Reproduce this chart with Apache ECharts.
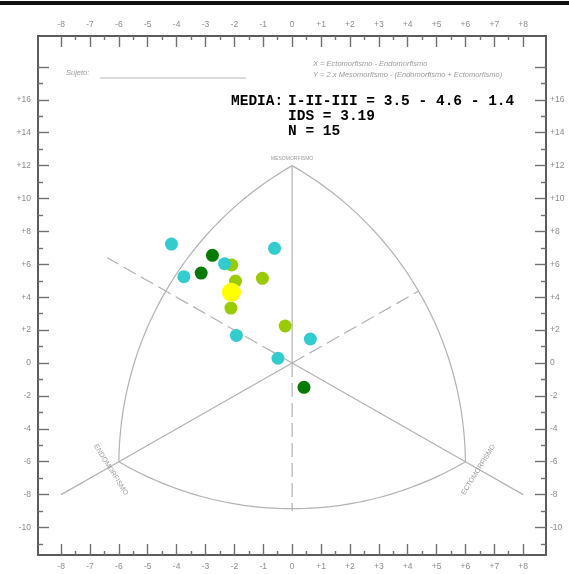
<!DOCTYPE html>
<html>
<head>
<meta charset="utf-8">
<script src="https://cdn.jsdelivr.net/npm/echarts@6/dist/echarts.min.js"></script>
<style>
  html, body { margin: 0; padding: 0; background: #fff; }
  #chart { width: 569px; height: 574px; }
</style>
</head>
<body>
<div id="chart"></div>
<script>
// Somatochart: X = Ectomorfismo - Endomorfismo, Y = 2 x Mesomorfismo - (Endomorfismo + Ectomorfismo)
const cyanPoints = [[-4.18, 7.23], [-0.61, 6.97], [-2.34, 6.04], [-3.75, 5.25], [-1.93, 1.68], [0.63, 1.46], [-0.49, 0.29]];
const darkGreenPoints = [[-2.76, 6.55], [-3.15, 5.47], [0.41, -1.48]];
const limePoints = [[-2.09, 5.96], [-1.96, 4.98], [-1.03, 5.15], [-2.12, 3.34], [-0.24, 2.25]];

// Mean somatotype (endo, meso, ecto), dispersion index and sample size
const meanSomatotype = [3.5, 4.6, 1.4];
const meanIDS = 3.19;
const sampleSize = 15;

// Axis tick values
const xTickValues = [-8, -7, -6, -5, -4, -3, -2, -1, 0, 1, 2, 3, 4, 5, 6, 7, 8];
const yLabelValues = [-10, -8, -6, -4, -2, 0, 2, 4, 6, 8, 10, 12, 14, 16];
const yMajorTicks = [-10, -8, -6, -4, -2, 0, 2, 4, 6, 8, 10, 12, 14, 16, 18];
const yMinorTicks = [-11, -9, -7, -5, -3, -1, 1, 3, 5, 7, 9, 11, 13, 15, 17];

// Somatochart outline (data space)
const apex = [0, 12];
const endoCorner = [-6, -6];
const ectoCorner = [6, -6];
const origin = [0, 0];
const endoTail = [-8, -8];
const ectoTail = [8, -8];
const upperLeftEnd = [-6.4, 6.4];
const upperRightEnd = [4.4, 4.4];
const lowerEnd = [0, -9];

const X_MIN = -8.8, X_MAX = 8.79, Y_MIN = -11.67, Y_MAX = 19.88;

// mean point from the stated mean somatotype
const meanPoint = [[
  meanSomatotype[2] - meanSomatotype[0],
  +(2 * meanSomatotype[1] - (meanSomatotype[0] + meanSomatotype[2])).toFixed(2)
]];

const xMinorTicks = xTickValues.slice(0, -1).map(v => v + 0.5);

function fmt(v) { return v > 0 ? '+' + v : String(v); }

const tickColor = '#707070';
const labelStyle = { color: '#8c8c8c', fontSize: 8.5, fontFamily: 'Liberation Sans' };

function xAxisDef(pos, ticks, len, labels) {
  return {
    type: 'value', position: pos, min: X_MIN, max: X_MAX,
    axisLine: { show: false, onZero: false }, splitLine: { show: false },
    axisTick: { show: true, inside: true, length: len, customValues: ticks,
                lineStyle: { color: tickColor, width: 1.4 } },
    axisLabel: labels ? Object.assign({ show: true, customValues: labels, formatter: fmt, margin: 7 }, labelStyle)
                      : { show: false }
  };
}
function yAxisDef(pos, ticks, len, labels) {
  return {
    type: 'value', position: pos, min: Y_MIN, max: Y_MAX,
    axisLine: { show: false, onZero: false }, splitLine: { show: false },
    axisTick: { show: true, inside: true, length: len, customValues: ticks,
                lineStyle: { color: tickColor, width: 1.4 } },
    axisLabel: labels ? Object.assign({ show: true, customValues: labels, formatter: fmt, margin: pos === 'left' ? 7 : 4 }, labelStyle)
                      : { show: false }
  };
}

// points along a circular arc around `c` from a to b (pixel space)
function arcPoints(c, a, b, n) {
  const a0 = Math.atan2(a[1] - c[1], a[0] - c[0]);
  let a1 = Math.atan2(b[1] - c[1], b[0] - c[0]);
  let d = a1 - a0;
  while (d > Math.PI) d -= 2 * Math.PI;
  while (d < -Math.PI) d += 2 * Math.PI;
  const r0 = Math.hypot(a[0] - c[0], a[1] - c[1]);
  const r1 = Math.hypot(b[0] - c[0], b[1] - c[1]);
  const pts = [];
  for (let i = 0; i <= n; i++) {
    const t = i / n, ang = a0 + d * t, r = r0 + (r1 - r0) * t;
    pts.push([c[0] + r * Math.cos(ang), c[1] + r * Math.sin(ang)]);
  }
  return pts;
}

function renderOutline(params, api) {
  const P = p => api.coord(p);
  const M = P(apex), EN = P(endoCorner), EC = P(ectoCorner), O = P(origin);
  const stroke = '#b2b2b2';
  const line = (pts, dash) => ({
    type: 'polyline', shape: { points: pts },
    style: { stroke: stroke, lineWidth: 1.2, fill: null, lineDash: dash || null }
  });
  const label = (text, pos, rot, size) => ({
    type: 'text', x: pos[0], y: pos[1], rotation: rot,
    style: { text: text, fill: '#9a9a9a', fontSize: size, fontFamily: 'Liberation Sans',
             align: 'center', verticalAlign: 'middle' }
  });
  return {
    type: 'group',
    children: [
      line(arcPoints(EC, M, EN, 60)),
      line(arcPoints(EN, M, EC, 60)),
      line(arcPoints(M, EN, EC, 60)),
      line([M, O]),
      line([O, EN, P(endoTail)]),
      line([O, EC, P(ectoTail)]),
      line([O, P(upperLeftEnd)], [14, 6]),
      line([O, P(upperRightEnd)], [14, 6]),
      line([O, P(lowerEnd)], [14, 6]),
      label('MESOMORFISMO', [M[0], M[1] - 7], 0, 5),
      label('ENDOMORFISMO', [EN[0] - 8, EN[1] + 8], -58 * Math.PI / 180, 7),
      label('ECTOMORFISMO', [EC[0] + 13, EC[1] + 8], 58 * Math.PI / 180, 7)
    ]
  };
}

const chart = echarts.init(document.getElementById('chart'), null, { renderer: 'canvas' });

const headerFont = { fontFamily: 'Liberation Mono', fontSize: 14.5, fontWeight: 'bold', fill: '#000' };
const smallFont = { fontFamily: 'Liberation Sans', fontSize: 7.5, fontStyle: 'italic', fill: '#9a9a9a' };

chart.setOption({
  animation: false,
  backgroundColor: '#fff',
  grid: { left: 38, right: 23, top: 36, bottom: 19, show: true,
          borderColor: '#5c5c5c', borderWidth: 2, backgroundColor: 'transparent' },
  xAxis: [
    xAxisDef('bottom', xTickValues, 11, xTickValues),
    xAxisDef('bottom', xMinorTicks, 4, null),
    xAxisDef('top', xTickValues, 11, xTickValues),
    xAxisDef('top', xMinorTicks, 4, null)
  ],
  yAxis: [
    yAxisDef('left', yMajorTicks, 11, yLabelValues),
    yAxisDef('left', yMinorTicks, 5, null),
    yAxisDef('right', yMajorTicks, 11, yLabelValues),
    yAxisDef('right', yMinorTicks, 5, null)
  ],
  graphic: [
    { type: 'rect', left: 0, top: 1, shape: { width: 569, height: 4 }, style: { fill: '#111' } },
    { type: 'text', left: 66, top: 69, style: Object.assign({ text: 'Sujeto:' }, smallFont) },
    { type: 'line', shape: { x1: 100, y1: 78, x2: 246, y2: 78 }, style: { stroke: '#b5b5b5', lineWidth: 1 } },
    { type: 'text', left: 313, top: 60, style: Object.assign({ text: 'X = Ectomorfismo - Endomorfismo' }, smallFont) },
    { type: 'text', left: 313, top: 71, style: Object.assign({ text: 'Y = 2 x Mesomorfismo - (Endomorfismo + Ectomorfismo)' }, smallFont) },
    { type: 'text', left: 231, top: 94, style: Object.assign({ text: 'MEDIA:' }, headerFont) },
    { type: 'text', left: 288, top: 94, style: Object.assign({ text: 'I-II-III = ' + meanSomatotype.join(' - ') }, headerFont) },
    { type: 'text', left: 288, top: 109, style: Object.assign({ text: 'IDS = ' + meanIDS }, headerFont) },
    { type: 'text', left: 288, top: 124, style: Object.assign({ text: 'N = ' + sampleSize }, headerFont) }
  ],
  series: [
    { type: 'custom', coordinateSystem: 'cartesian2d', renderItem: renderOutline,
      data: [[0, 0]], silent: true, z: 1 },
    { name: 'lime', type: 'scatter', data: limePoints, symbolSize: 13,
      itemStyle: { color: '#99cc00', opacity: 1 }, z: 3 },
    { name: 'darkGreen', type: 'scatter', data: darkGreenPoints, symbolSize: 13,
      itemStyle: { color: '#067a06', opacity: 1 }, z: 4 },
    { name: 'cyan', type: 'scatter', data: cyanPoints, symbolSize: 13,
      itemStyle: { color: '#33cccc', opacity: 1 }, z: 5 },
    { name: 'mean', type: 'scatter', data: meanPoint, symbolSize: 19,
      itemStyle: { color: '#ffff00', opacity: 1 }, z: 6 }
  ]
});
</script>
</body>
</html>
